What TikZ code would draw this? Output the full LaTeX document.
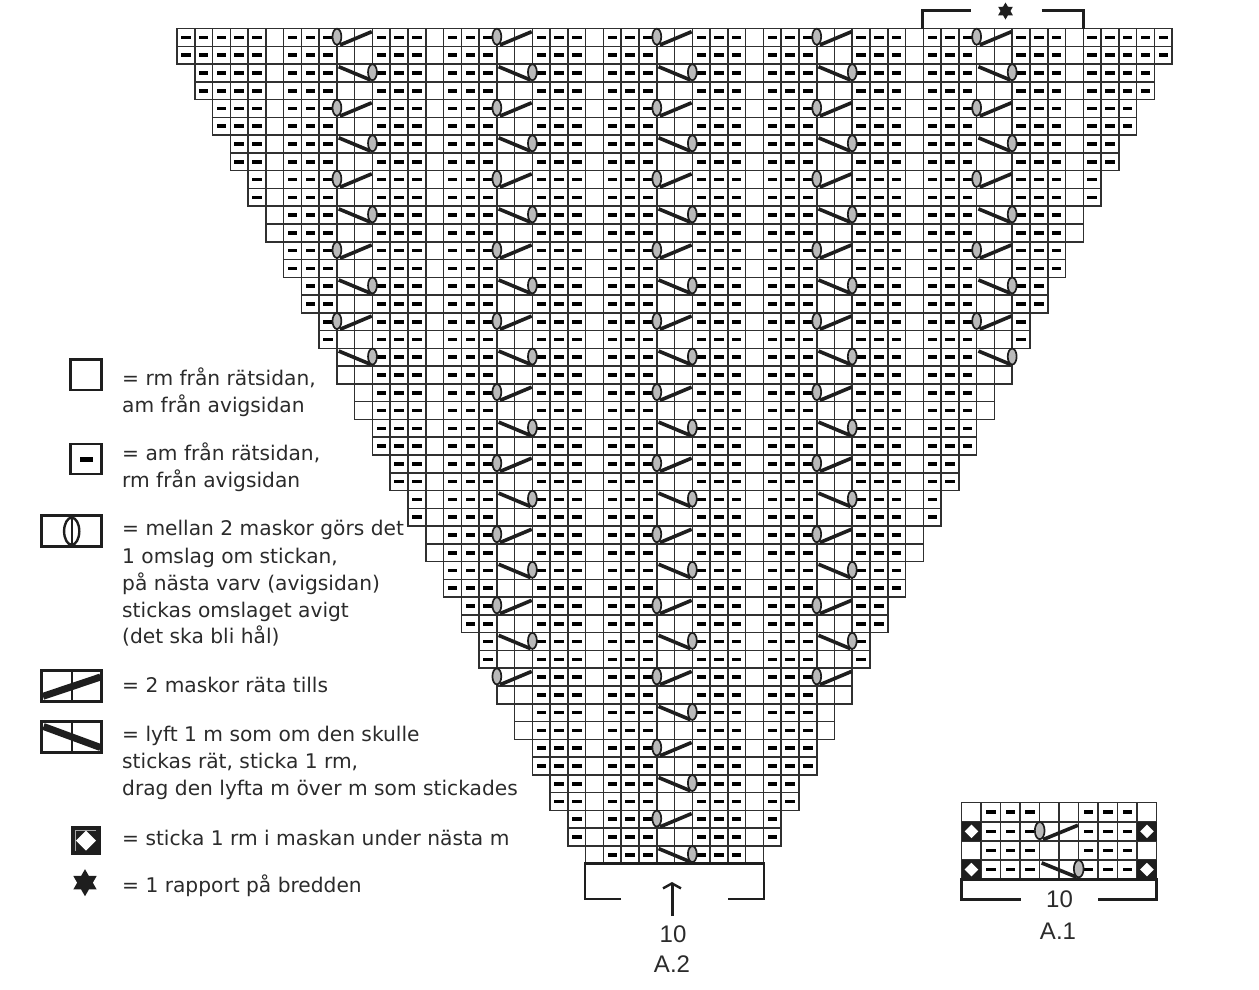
\documentclass[tikz,border=0pt]{standalone}
\usepackage{fontspec}
\setmainfont{DejaVu Sans}
\newfontfamily\labelfont{Liberation Sans}
\usetikzlibrary{shapes.geometric,arrows.meta}
\definecolor{ink}{HTML}{1E1E1E}
\definecolor{gridink}{HTML}{303030}
\definecolor{txt}{HTML}{2B2B2B}
\newif\ifblankcell
\tikzset{
  gridline/.style={draw=gridink,line width=1.55pt},
  dashmark/.style={fill=black},
  slashline/.style={draw=ink,line width=3.6pt},
  loopmark/.style={draw=ink,line width=1.7pt,fill=gray!55},
  bracketline/.style={draw=ink,line width=2.8pt,line cap=butt,line join=miter},
  iconbox/.style={draw=ink,line width=2.6pt},
  legendtext/.style={anchor=base west,inner sep=0pt,text=txt,font=\fontsize{20.2pt}{24pt}\selectfont},
  chartlabel/.style={inner sep=0pt,text=txt,font=\labelfont\fontsize{24pt}{28pt}\selectfont},
  starmark/.style={star,star points=6,star point ratio=1.73,inner sep=0pt,fill=ink,draw=none},
}
% #1 x, #2 y, #3 cell width, #4 cell height (all plain numbers)
\newcommand\mydash[4]{%
  \pgfmathsetmacro\dx{#1+0.5*#3-4.7}\pgfmathsetmacro\dy{#2+0.5*#4-1.8}%
  \fill[dashmark] (\dx,\dy) rectangle ++(9.4,3.6);}
\newcommand\mytog[4]{%
  \pgfmathsetmacro\ax{#1+0.17*#3}\pgfmathsetmacro\ay{#2+0.93*#4}%
  \pgfmathsetmacro\bx{#1+1.96*#3}\pgfmathsetmacro\by{#2+0.18*#4}%
  \pgfmathsetmacro\ey{#2+0.46*#4}\pgfmathsetmacro\erx{0.25*#3}\pgfmathsetmacro\ery{0.45*#4}%
  \draw[slashline] (\ax,\ay) -- (\bx,\by);
  \draw[loopmark] (#1,\ey) ellipse[x radius=\erx,y radius=\ery];}
\newcommand\myssk[4]{%
  \pgfmathsetmacro\ax{#1+0.1*#3}\pgfmathsetmacro\ay{#2+0.15*#4}%
  \pgfmathsetmacro\bx{#1+1.9*#3}\pgfmathsetmacro\by{#2+0.9*#4}%
  \pgfmathsetmacro\ex{#1+2*#3}\pgfmathsetmacro\ey{#2+0.46*#4}\pgfmathsetmacro\erx{0.25*#3}\pgfmathsetmacro\ery{0.45*#4}%
  \draw[slashline] (\ax,\ay) -- (\bx,\by);
  \draw[loopmark] (\ex,\ey) ellipse[x radius=\erx,y radius=\ery];}
\newcommand\mydiamond[4]{%
  \fill[ink] (#1,#2) rectangle ++(#3,#4);
  \pgfmathsetmacro\ex{#1+0.5*#3}\pgfmathsetmacro\ey{#2+0.5*#4}%
  \fill[white] (\ex,\ey) ++(-6.8,0) -- ++(6.8,-6.8) -- ++(6.8,6.8) -- ++(-6.8,6.8) -- cycle;}
\begin{document}
\begin{tikzpicture}[x=1pt,y=-1pt]
\useasboundingbox (0,0) rectangle (1259,989);
\fill[white] (0,0) rectangle (1259,989);
\def\cw{17.77}
% ---------- main chart A.2 ----------
\foreach \myrow in {0,...,46}{
  \pgfmathtruncatemacro\ins{int(\myrow/2)}
  \pgfmathtruncatemacro\lst{55-\ins}
  \pgfmathsetmacro\yy{28.5+\myrow*\cw}
  \foreach \mycol in {\ins,...,\lst}{
    \pgfmathsetmacro\xx{177+\mycol*\cw}
    \draw[gridline] (\xx,\yy) rectangle ++(\cw,\cw);
    \pgfmathtruncatemacro\mymod{mod(\mycol,9)}
    \blankcellfalse
    \ifnum\mymod=5 \blankcelltrue\fi
    \ifnum\mycol>8 \ifnum\mycol<47
      \ifnum\mymod=0 \blankcelltrue\fi
      \ifnum\mymod=1 \blankcelltrue\fi
    \fi\fi
    \ifblankcell\else
      \mydash{\xx}{\yy}{\cw}{\cw}
    \fi
  }
}
\foreach \myrow in {0,2,...,46}{
  \pgfmathtruncatemacro\ins{int(\myrow/2)}
  \pgfmathtruncatemacro\lst{55-\ins}
  \pgfmathtruncatemacro\kind{mod(\myrow,4)}
  \pgfmathsetmacro\yy{28.5+\myrow*\cw}
  \foreach \mc in {9,18,27,36,45}{
    \pgfmathsetmacro\xx{177+\mc*\cw}
    \ifnum\mc<\ins\else\ifnum\mc<\lst
      \ifnum\kind=0
        \mytog{\xx}{\yy}{\cw}{\cw}
      \else
        \myssk{\xx}{\yy}{\cw}{\cw}
      \fi
    \fi\fi
  }
}
% top bracket with star
\draw[bracketline] (922.7,28.5) -- (922.7,10.5) -- (970.7,10.5);
\draw[bracketline] (1041.7,10.5) -- (1083.3,10.5) -- (1083.3,28.5);
\node[starmark,minimum size=17pt] (topstar) at (1005.5,11) {};
% bottom bracket A.2
\draw[bracketline] (621,899) -- (585,899) -- (585,863.7) -- (764,863.7) -- (764,899) -- (728.3,899);
\coordinate (arrowfoot) at (672,916);
\coordinate (arrowhead) at (672,882);
\draw[draw=ink,line width=3pt,-{Straight Barb[length=5pt,width=18pt,line width=2.4pt]}] (arrowfoot) -- (arrowhead);
\node[chartlabel] (tenA) at (673,934.5) {10};
\node[chartlabel] (nameA) at (672,964.5) {A.2};
% ---------- small chart A.1 ----------
\def\aw{19.5}
\def\ah{19.1}
\foreach \myrow in {0,1,2,3}{
  \pgfmathsetmacro\yy{802.7+\myrow*\ah}
  \foreach \mycol in {0,...,9}{
    \pgfmathsetmacro\xx{961.7+\mycol*\aw}
    \draw[gridline] (\xx,\yy) rectangle ++(\aw,\ah);
  }
  \foreach \mycol in {1,2,3,6,7,8}{
    \pgfmathsetmacro\xx{961.7+\mycol*\aw}
    \mydash{\xx}{\yy}{\aw}{\ah}
  }
}
\foreach \myrow in {1,3}{
  \pgfmathsetmacro\yy{802.7+\myrow*\ah}
  \foreach \mycol in {0,9}{
    \pgfmathsetmacro\xx{961.7+\mycol*\aw}
    \mydiamond{\xx}{\yy}{\aw}{\ah}
  }
}
\pgfmathsetmacro\xx{961.7+4*\aw}
\pgfmathsetmacro\yy{802.7+\ah}
\mytog{\xx}{\yy}{\aw}{\ah}
\pgfmathsetmacro\yy{802.7+3*\ah}
\myssk{\xx}{\yy}{\aw}{\ah}
\draw[bracketline] (1020.7,899.3) -- (961.7,899.3) -- (961.7,879.3) -- (1156.7,879.3) -- (1156.7,899.3) -- (1098.3,899.3);
\node[chartlabel] (tenB) at (1059.5,899.3) {10};
\node[chartlabel] (nameB) at (1058,931) {A.1};
% ---------- legend ----------
\draw[iconbox] (70.7,359.5) rectangle (101.7,390);
\draw[iconbox] (70.7,444) rectangle (101.7,474);
\fill[black] (79.5,456.5) rectangle (92.5,461.5);
\draw[iconbox] (41.7,515.7) rectangle (101.7,546.7);
\draw[draw=ink,line width=2.4pt] (71.7,531.2) ellipse[x radius=7.6,y radius=13.6];
\draw[draw=ink,line width=2pt] (71.7,517) -- (71.7,545);
\draw[iconbox] (41.7,670.7) rectangle (101.7,701.7);
\draw[draw=ink,line width=1.8pt] (71.7,670.7) -- (71.7,701.7);
\draw[draw=ink,line width=7pt] (43,696.3) -- (100.5,677);
\draw[iconbox] (41.7,721.7) rectangle (101.7,752.7);
\draw[draw=ink,line width=1.8pt] (71.7,721.7) -- (71.7,752.7);
\draw[draw=ink,line width=7pt] (43.5,726.5) -- (100.5,747.5);
\fill[ink] (70.7,825.7) rectangle (100.7,855.3);
\draw[draw=gray!70,line width=1pt] (75,851) -- (75,830) -- (96,830);
\fill[white] (76,840.6) -- (86,830.6) -- (96,840.6) -- (86,850.6) -- cycle;
\node[starmark,minimum size=27pt] (legendstar) at (85,882.7) {};
\node[legendtext] (t1) at (122,385.3) {= rm från rätsidan,};
\node[legendtext] (t2) at (122,412.2) {am från avigsidan};
\node[legendtext] (t3) at (122,460.7) {= am från rätsidan,};
\node[legendtext] (t4) at (122,487) {rm från avigsidan};
\node[legendtext] (t5) at (122,535.7) {= mellan 2 maskor görs det};
\node[legendtext] (t6) at (122,563) {1 omslag om stickan,};
\node[legendtext] (t7) at (122,590) {på nästa varv (avigsidan)};
\node[legendtext] (t8) at (122,617) {stickas omslaget avigt};
\node[legendtext] (t9) at (122,643.5) {(det ska bli hål)};
\node[legendtext] (t10) at (122,692.8) {= 2 maskor räta tills};
\node[legendtext] (t11) at (122,741.5) {= lyft 1 m som om den skulle};
\node[legendtext] (t12) at (122,768.3) {stickas rät, sticka 1 rm,};
\node[legendtext] (t13) at (122,795) {drag den lyfta m över m som stickades};
\node[legendtext] (t14) at (122,845) {= sticka 1 rm i maskan under nästa m};
\node[legendtext] (t15) at (122,892.8) {= 1 rapport på bredden};
\end{tikzpicture}
\end{document}
